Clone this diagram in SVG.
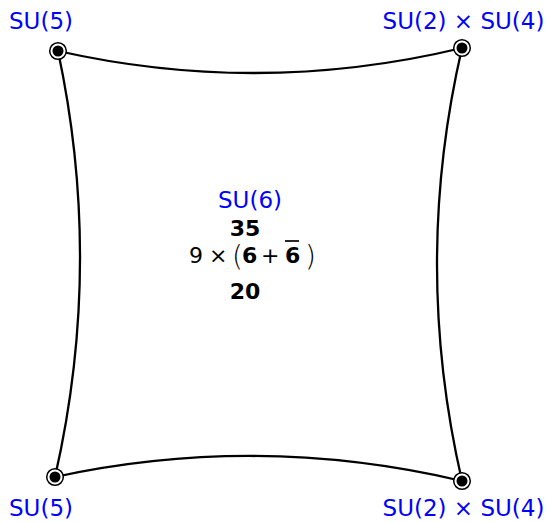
<svg xmlns="http://www.w3.org/2000/svg" width="548" height="522" viewBox="0 0 548 522">
<style>
.lbl{font-family:"DejaVu Sans",sans-serif;font-size:23px;fill:#0000ff}
.num{font-family:"DejaVu Sans",sans-serif;font-size:22px;font-weight:bold;fill:#000}
.m{font-family:"DejaVu Sans",sans-serif;font-size:22px;fill:#000}
.par{font-family:"DejaVu Sans",sans-serif;font-size:28px;font-weight:200;fill:#000}
.edge{fill:none;stroke:#000;stroke-width:2.3}
.ring{fill:#fff;stroke:#000;stroke-width:1.5}
</style>
<rect width="548" height="522" fill="#fff"/>
<g id="connectors">
<path class="edge" d="M58,51 Q260,96.5 462,48"/>
<path class="edge" d="M55,477 Q258,433 462,481"/>
<path class="edge" d="M58,51 Q103.5,264 55,477"/>
<path class="edge" d="M462,48 Q412,264 462,481"/>
</g>
<g id="node-tl">
<circle class="ring" cx="58" cy="51" r="8.3"/><circle cx="58" cy="51" r="5.5"/>
<text class="lbl" x="41" y="29" text-anchor="middle">SU(5)</text>
</g>
<g id="node-tr">
<circle class="ring" cx="462" cy="48" r="8.3"/><circle cx="462" cy="48" r="5.5"/>
<text class="lbl" x="463.5" y="29" text-anchor="middle">SU(2) × SU(4)</text>
</g>
<g id="node-bl">
<circle class="ring" cx="55" cy="477" r="8.3"/><circle cx="55" cy="477" r="5.5"/>
<text class="lbl" x="41" y="516" text-anchor="middle">SU(5)</text>
</g>
<g id="node-br">
<circle class="ring" cx="462" cy="481" r="8.3"/><circle cx="462" cy="481" r="5.5"/>
<text class="lbl" x="463.5" y="516" text-anchor="middle">SU(2) × SU(4)</text>
</g>
<g id="node-center">
<text class="lbl" x="250" y="208" text-anchor="middle">SU(6)</text>
<text class="num" x="245" y="236" text-anchor="middle">35</text>
<text class="m" x="189" y="263">9</text>
<text class="m" x="209" y="263">×</text>
<text class="par" x="232" y="266">(</text>
<text class="num" x="242" y="263">6</text>
<text class="m" x="261" y="263">+</text>
<text class="num" x="285" y="263">6</text>
<line x1="285" y1="241" x2="299" y2="241" stroke="#000" stroke-width="1.7"/>
<text class="par" x="305" y="266">)</text>
<text class="num" x="245" y="299" text-anchor="middle">20</text>
</g>
</svg>
